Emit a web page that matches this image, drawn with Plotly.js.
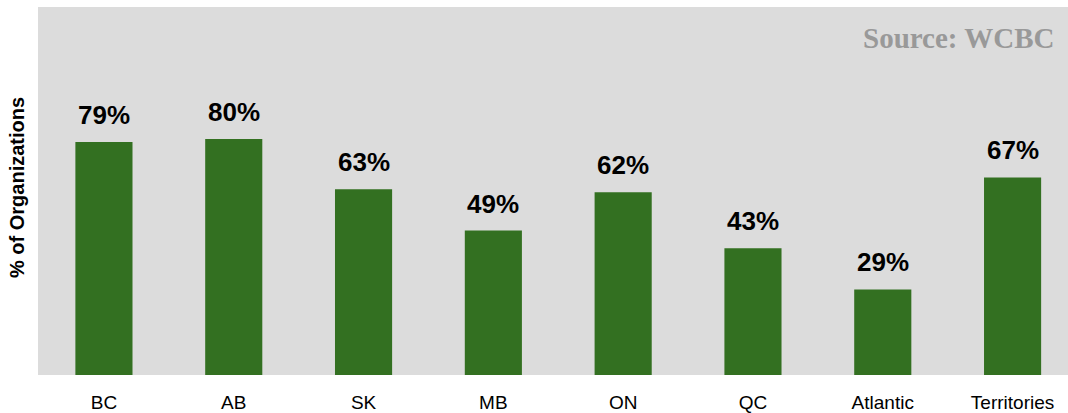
<!DOCTYPE html>
<html>
<head>
<meta charset="utf-8">
<script src="https://cdn.plot.ly/plotly-3.0.1.min.js"></script>
<style>html,body{margin:0;padding:0;background:#fff;}#chart{width:1068px;height:413px;}</style>
</head>
<body>
<div id="chart"></div>
<script>
const categories = ["BC", "AB", "SK", "MB", "ON", "QC", "Atlantic", "Territories"];
const values = [79, 80, 63, 49, 62, 43, 29, 67];
const valueLabels = ["79%", "80%", "63%", "49%", "62%", "43%", "29%", "67%"];
const yTitle = "% of Organizations";
const sourceText = "Source: WCBC";

const annotations = categories.map((c, i) => ({
  x: c, y: values[i], xref: 'x', yref: 'y',
  text: valueLabels[i], showarrow: false,
  xanchor: 'center', yanchor: 'bottom', yshift: 10,
  font: {family: 'Liberation Sans, Arial, sans-serif', size: 26, color: '#000', weight: 'bold'}
}));
annotations.push({
  x: 1, y: 1, xref: 'paper', yref: 'paper', xanchor: 'right', yanchor: 'top',
  xshift: -12, yshift: -13, showarrow: false, text: '<b>' + sourceText + '</b>',
  font: {family: 'Liberation Serif, Times New Roman, serif', size: 29, color: '#999999'}
});
annotations.push({
  x: 0, y: 0.5, xref: 'paper', yref: 'paper', xanchor: 'center', yanchor: 'middle',
  xshift: -21, yshift: 3, showarrow: false, textangle: -90, text: '<b>' + yTitle + '</b>',
  font: {family: 'Liberation Sans, Arial, sans-serif', size: 20, color: '#000'}
});

Plotly.newPlot('chart', [{
  type: 'bar', x: categories, y: values, width: 0.44,
  marker: {color: '#337021'},
  hoverinfo: 'skip'
}], {
  width: 1068, height: 413,
  margin: {l: 38, r: 0, t: 7, b: 38, pad: 0},
  paper_bgcolor: '#ffffff', plot_bgcolor: '#dcdcdc',
  showlegend: false,
  xaxis: {range: [-0.508, 7.427], showgrid: false, zeroline: false, showline: false,
    ticks: 'outside', ticklen: 10, tickcolor: 'rgba(0,0,0,0)',
    tickfont: {family: 'Liberation Sans, Arial, sans-serif', size: 19, color: '#000'}},
  yaxis: {range: [0, 124.8], showgrid: false, zeroline: false, showline: false,
    showticklabels: false, ticks: ''},
  annotations: annotations
}, {displayModeBar: false, staticPlot: true});
</script>
</body>
</html>
